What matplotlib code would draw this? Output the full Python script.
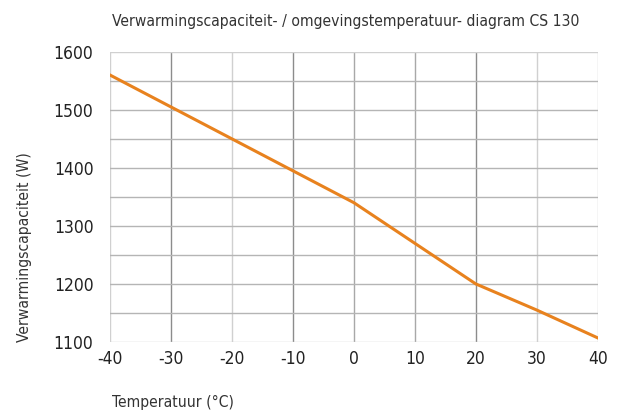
import matplotlib.pyplot as plt
import numpy as np

temperatuur = [-40, -30, -20, -10, 0, 10, 20, 30, 40]
capaciteit = [1560, 1505, 1450, 1395, 1340, 1270, 1200, 1155, 1107]
x_ticks = [-40, -30, -20, -10, 0, 10, 20, 30, 40]
y_ticks = [1100, 1200, 1300, 1400, 1500, 1600]

smal = dict(family='DejaVu Sans', stretch='condensed')

fig = plt.figure(figsize=(6.22, 4.15), dpi=100)
ax = fig.add_axes([0.177, 0.176, 0.784, 0.699])

# raster: elke 10 graden en elke 50 W, sommige lijnen donkerder
donker = (-30, -10, 20)
middel = (0, 10)
for xv in np.arange(-40, 41, 10):
    if xv in donker:
        kleur = '#8c8c8c'
    elif xv in middel:
        kleur = '#a8a8a8'
    else:
        kleur = '#d0d0d0'
    ax.axvline(xv, color=kleur, lw=1.0, zorder=1)
for yv in np.arange(1100, 1601, 50):
    kleur = '#d0d0d0' if yv in (1100, 1600) else '#b5b5b5'
    ax.axhline(yv, color=kleur, lw=1.0, zorder=1)

ax.plot(temperatuur, capaciteit, color='#e8821e', lw=2.2, zorder=3)

ax.set_xlim(-40, 40)
ax.set_ylim(1100, 1600)
ax.set_xticks(x_ticks)
ax.set_yticks(y_ticks)
ax.set_xticklabels([str(t) for t in x_ticks], fontsize=12.5, **smal)
ax.set_yticklabels([str(t) for t in y_ticks], fontsize=12.5, **smal)
ax.tick_params(length=0, colors='#222222')
ax.tick_params(axis='x', pad=6)
ax.tick_params(axis='y', pad=12)
for s in ax.spines.values():
    s.set_visible(False)

fig.text(0.555, 0.947, 'Verwarmingscapaciteit- / omgevingstemperatuur- diagram CS 130',
         ha='center', va='center', fontsize=11.25, color='#333333', **smal)
fig.text(0.039, 0.405, 'Verwarmingscapaciteit (W)', rotation=90, ha='center', va='center',
         fontsize=11.25, color='#333333', **smal)
fig.text(0.18, 0.03, 'Temperatuur (°C)', ha='left', va='center',
         fontsize=11.25, color='#333333', **smal)

fig.savefig('out.png', dpi=100)
